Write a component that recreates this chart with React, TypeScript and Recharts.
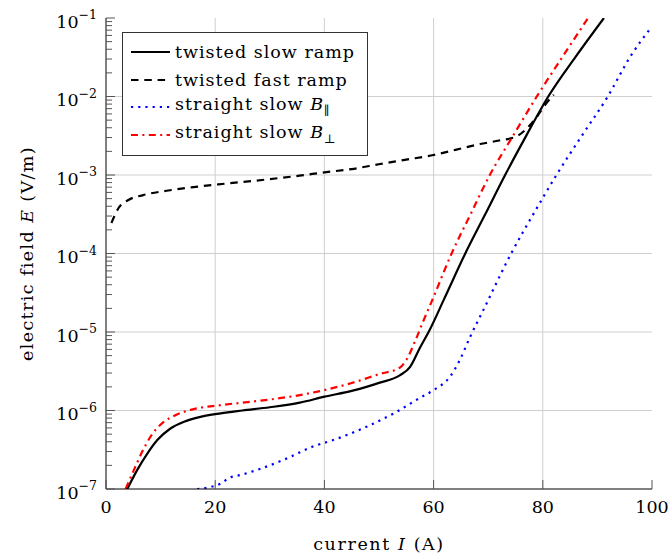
import React from 'react';
import { LineChart, Line, XAxis, YAxis, ReferenceLine, Legend } from 'recharts';

const FONT = '"DejaVu Serif", serif';

// twisted slow ramp
const slowI = [3.9, 5.7, 7.6, 9.4, 11.8, 14.3, 17.3, 21, 25, 30, 35.5, 40, 45, 47.7, 50, 53.8, 55.7, 57.5, 59.3, 62, 65.8, 69.5, 73.1, 77, 81, 86, 91.2];
const slowE = [1e-7, 1.74e-7, 2.85e-7, 4.2e-7, 5.9e-7, 7.2e-7, 8.3e-7, 9.2e-7, 1.0e-6, 1.1e-6, 1.26e-6, 1.5e-6, 1.78e-6, 2.0e-6, 2.25e-6, 2.8e-6, 3.6e-6, 6.3e-6, 1.07e-5, 2.7e-5, 1e-4, 3.2e-4, 1e-3, 3.2e-3, 1e-2, 3.2e-2, 1e-1];

// twisted fast ramp
const fastI = [1.0, 2.3, 4.1, 6.8, 11.1, 16, 20.6, 27.6, 35.4, 40, 45, 50.2, 55, 60, 64, 68.5, 72, 75.2, 76.7, 78.9, 80.4, 82];
const fastE = [2.45e-4, 3.8e-4, 4.8e-4, 5.55e-4, 6.3e-4, 7.0e-4, 7.6e-4, 8.5e-4, 9.8e-4, 1.08e-3, 1.19e-3, 1.38e-3, 1.57e-3, 1.8e-3, 2.09e-3, 2.48e-3, 2.75e-3, 3.1e-3, 3.7e-3, 5.5e-3, 7.8e-3, 1.05e-2];

// straight slow, B parallel
const parI = [16.7, 21, 22.5, 24.5, 28.2, 33.1, 38, 41.6, 47.7, 52.6, 57.5, 59.9, 63, 64.8, 66.7, 69.1, 74.2, 78.3, 82.5, 87.2, 91.9, 96, 100];
const parE = [1e-7, 1.17e-7, 1.38e-7, 1.5e-7, 1.8e-7, 2.45e-7, 3.5e-7, 4.2e-7, 6.2e-7, 9.1e-7, 1.45e-6, 1.8e-6, 2.7e-6, 4.4e-6, 8.7e-6, 1.9e-5, 1e-4, 3.2e-4, 1e-3, 3.2e-3, 1e-2, 3.2e-2, 7.8e-2];

// straight slow, B perpendicular
const perpI = [3.6, 5.1, 6.65, 8.2, 10.3, 12.7, 15.5, 21, 25, 30, 35, 40, 45, 50, 53.8, 55, 56.6, 58, 59.6, 63.3, 66.8, 70.3, 74.6, 78.9, 83.6, 88.3];
const perpE = [1e-7, 1.74e-7, 3.0e-7, 4.7e-7, 6.9e-7, 8.7e-7, 1.02e-6, 1.17e-6, 1.26e-6, 1.38e-6, 1.55e-6, 1.82e-6, 2.24e-6, 2.9e-6, 3.5e-6, 4.4e-6, 7.6e-6, 1.32e-5, 2.4e-5, 1e-4, 3.2e-4, 1e-3, 3.2e-3, 1e-2, 3.2e-2, 1e-1];

const seriesNames = ['twisted slow ramp', 'twisted fast ramp', 'straight slow B\u2225', 'straight slow B\u22a5'];

const xTicks = [0, 20, 40, 60, 80, 100];
const yExps = [-7, -6, -5, -4, -3, -2, -1];
const yMajor = yExps.map((e) => Math.pow(10, e));
const yMinor = yExps.slice(0, -1).flatMap((e) => [2, 3, 4, 5, 6, 7, 8, 9].map((m) => m * Math.pow(10, e)));
const yAll = [...yMajor, ...yMinor].sort((a, b) => a - b);

const toRows = (xs: number[], ys: number[]) => xs.map((i, k) => ({ i, e: ys[k] }));

const isMajor = (v: number) => yMajor.some((m) => Math.abs(v - m) / m < 1e-6);

const LeftTick = ({ x, y, payload }: any) => {
  const v = payload.value;
  const major = isMajor(v);
  return (
    <g>
      <line x1={x} y1={y} x2={x + (major ? 9 : 6)} y2={y} stroke="#555" strokeWidth={1} />
      {major && (
        <text x={x - 9} y={y + 9.5} textAnchor="end" fontFamily={FONT} fontSize={17.5} fill="#000">
          <tspan>10</tspan>
          <tspan dy={-8.5} fontSize={12.5}>{'\u2212' + Math.abs(Math.round(Math.log10(v)))}</tspan>
        </text>
      )}
    </g>
  );
};

const RightTick = ({ x, y, payload }: any) => {
  const major = isMajor(payload.value);
  return <line x1={x - (major ? 9 : 6)} y1={y} x2={x} y2={y} stroke="#555" strokeWidth={1} />;
};

const BottomTick = ({ x, y, payload }: any) => (
  <g>
    <line x1={x} y1={y} x2={x} y2={y - 9} stroke="#555" strokeWidth={1} />
    <text x={x} y={y + 23.5} textAnchor="middle" fontFamily={FONT} fontSize={17.5} fill="#000">
      {payload.value}
    </text>
  </g>
);

const TopTick = ({ x, y }: any) => <line x1={x} y1={y} x2={x} y2={y + 9} stroke="#555" strokeWidth={1} />;

const XLabel = ({ viewBox }: any) => {
  const cx = viewBox.x + viewBox.width / 2;
  return (
    <text x={cx} y={viewBox.y + 61} textAnchor="middle" fontFamily={FONT} fontSize={17.5} letterSpacing={1.6} fill="#000">
      {'current '}
      <tspan fontStyle="italic">I</tspan>
      {' (A)'}
    </text>
  );
};

const YLabel = ({ viewBox }: any) => {
  const cx = viewBox.x + 33;
  const cy = viewBox.y + viewBox.height / 2;
  return (
    <text x={cx} y={cy} transform={`rotate(-90 ${cx} ${cy})`} textAnchor="middle" fontFamily={FONT} fontSize={17.5} letterSpacing={1.4} fill="#000">
      {'electric field '}
      <tspan fontStyle="italic">E</tspan>
      {' (V/m)'}
    </text>
  );
};

const renderName = (name: string) => {
  const m = name.match(/^(.*)B(.)$/);
  if (!m) return name;
  return (
    <>
      {m[1]}
      <i>B</i>
      <sub style={{ fontSize: 12.5, letterSpacing: 0 }}>{m[2]}</sub>
    </>
  );
};

const LegendBox = ({ payload }: any) => {
  const items = [...(payload || [])].sort((a: any, b: any) => seriesNames.indexOf(a.value) - seriesNames.indexOf(b.value));
  return (
    <div
      style={{
        border: '1px solid #333',
        background: '#fff',
        padding: '5px 8px 6px 8px',
        boxSizing: 'border-box',
        width: 246,
        fontFamily: FONT,
        fontSize: 17.5,
        letterSpacing: 1,
        color: '#000',
      }}
    >
      {items.map((p: any) => (
        <div key={p.value} style={{ display: 'flex', alignItems: 'center', height: 27.8, whiteSpace: 'nowrap', lineHeight: '20px' }}>
          <svg width={40} height={10} style={{ marginRight: 4, flex: 'none' }}>
            <line x1={0} y1={5} x2={39} y2={5} stroke={p.color} strokeWidth={2.2} strokeDasharray={p.payload?.strokeDasharray} />
          </svg>
          <span>{renderName(p.value)}</span>
        </div>
      ))}
    </div>
  );
};

export default function App() {
  return (
    <div style={{ position: 'absolute', left: 0, top: 0, width: 671, height: 554, background: '#fff', fontFamily: FONT }}>
      <LineChart width={671} height={554} margin={{ top: 18, right: 19, bottom: 0, left: 0 }}>
        <XAxis
          xAxisId="b"
          type="number"
          dataKey="i"
          domain={[0, 100]}
          allowDataOverflow
          ticks={xTicks}
          interval={0}
          height={65}
          tickSize={0}
          tickMargin={0}
          tickLine={false}
          tick={<BottomTick />}
          axisLine={{ stroke: '#000', strokeWidth: 1 }}
          label={<XLabel />}
        />
        <XAxis
          xAxisId="t"
          orientation="top"
          type="number"
          domain={[0, 100]}
          allowDataOverflow
          ticks={xTicks}
          interval={0}
          height={0}
          tickSize={0}
          tickMargin={0}
          tickLine={false}
          tick={<TopTick />}
          axisLine={{ stroke: '#000', strokeWidth: 1 }}
        />
        <YAxis
          yAxisId="l"
          type="number"
          scale="log"
          domain={[1e-7, 1e-1]}
          allowDataOverflow
          ticks={yAll}
          interval={0}
          width={106}
          tickSize={0}
          tickMargin={0}
          tickLine={false}
          tick={<LeftTick />}
          axisLine={{ stroke: '#000', strokeWidth: 1 }}
          label={<YLabel />}
        />
        <YAxis
          yAxisId="r"
          orientation="right"
          type="number"
          scale="log"
          domain={[1e-7, 1e-1]}
          allowDataOverflow
          ticks={yAll}
          interval={0}
          width={0}
          tickSize={0}
          tickMargin={0}
          tickLine={false}
          tick={<RightTick />}
          axisLine={{ stroke: '#000', strokeWidth: 1 }}
        />
        {yMajor.slice(1, -1).map((v) => (
          <ReferenceLine key={'gy' + v} xAxisId="b" yAxisId="l" y={v} stroke="#cfcfcf" strokeWidth={1} />
        ))}
        {xTicks.slice(1, -1).map((v) => (
          <ReferenceLine key={'gx' + v} xAxisId="b" yAxisId="l" x={v} stroke="#cfcfcf" strokeWidth={1} />
        ))}
        <Legend
          layout="vertical"
          align="center"
          verticalAlign="middle"
          content={<LegendBox />}
          wrapperStyle={{ left: 122, top: 32, width: 246, height: 'auto' }}
        />
        <Line
          xAxisId="b"
          yAxisId="l"
          data={toRows(slowI, slowE)}
          dataKey="e"
          name={seriesNames[0]}
          type="monotone"
          stroke="#000"
          strokeWidth={2.2}
          dot={false}
          activeDot={false}
          isAnimationActive={false}
        />
        <Line
          xAxisId="b"
          yAxisId="l"
          data={toRows(fastI, fastE)}
          dataKey="e"
          name={seriesNames[1]}
          type="monotone"
          stroke="#000"
          strokeWidth={2.2}
          strokeDasharray="7.5 5.8"
          dot={false}
          activeDot={false}
          isAnimationActive={false}
        />
        <Line
          xAxisId="b"
          yAxisId="l"
          data={toRows(parI, parE)}
          dataKey="e"
          name={seriesNames[2]}
          type="monotone"
          stroke="#0000ff"
          strokeWidth={2.2}
          strokeDasharray="2.2 5"
          dot={false}
          activeDot={false}
          isAnimationActive={false}
        />
        <Line
          xAxisId="b"
          yAxisId="l"
          data={toRows(perpI, perpE)}
          dataKey="e"
          name={seriesNames[3]}
          type="monotone"
          stroke="#ff0000"
          strokeWidth={2.2}
          strokeDasharray="7 4.4 2 4.4"
          dot={false}
          activeDot={false}
          isAnimationActive={false}
        />
      </LineChart>
    </div>
  );
}
